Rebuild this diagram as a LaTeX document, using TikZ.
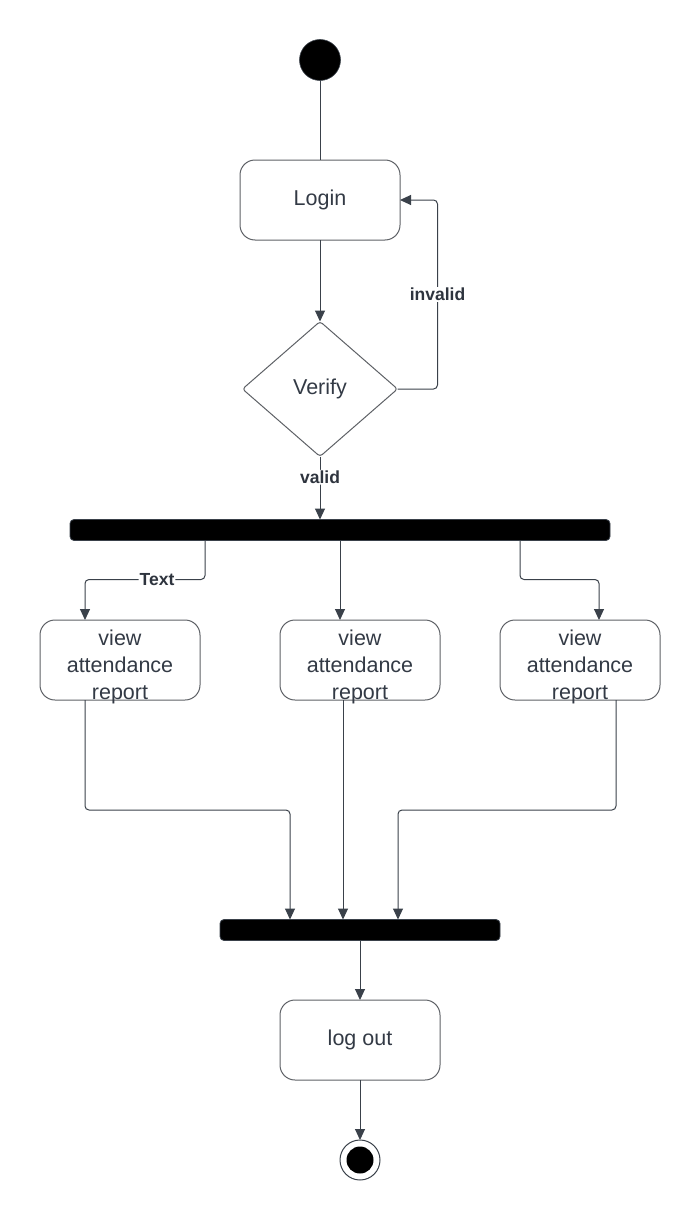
\documentclass[tikz,border=0pt]{standalone}
\usepackage{fontspec}
\setmainfont{Liberation Sans}
\usetikzlibrary{shapes.geometric,arrows.meta}
\definecolor{linec}{HTML}{3A414A}
\definecolor{boxc}{HTML}{5E6166}
\definecolor{textc}{HTML}{333A45}
\tikzset{
  act/.style={draw=boxc, line width=1pt, rounded corners=15pt, minimum width=160pt, minimum height=80pt, inner sep=0pt, outer sep=0pt, text=textc, font=\fontsize{21.5}{27}\selectfont, align=center},
  decision/.style={draw=boxc, line width=1pt, shape=diamond, aspect=1.15, minimum width=155pt, minimum height=135pt, inner sep=0pt, outer sep=0pt, rounded corners=3pt, text=textc, font=\fontsize{21.5}{27}\selectfont},
  bar/.style={fill=black, draw=linec, line width=0.8pt, rounded corners=4pt, minimum height=21pt, inner sep=0pt, outer sep=0pt},
  conn/.style={draw=linec, line width=1pt, rounded corners=4pt},
  arr/.style={conn, -{Triangle[length=11pt,width=10pt]}},
  lbl/.style={fill=white, text=textc!90!black, font=\bfseries\fontsize{17.5}{20}\selectfont, inner sep=1pt},
}
\begin{document}
\begin{tikzpicture}[x=1pt,y=-1pt]
\useasboundingbox (0,0) rectangle (700,1220);
\node[circle, fill=black, draw=linec, line width=0.6pt, minimum size=41pt, inner sep=0pt, outer sep=0pt] (start) at (320,60) {};
\node[act] (login) at (320,200) {Login};
\node[decision] (verify) at (320,389) {Verify};
\node[bar, minimum width=540pt] (fork) at (340,530) {};
\node[act] (v1) at (120,660) {};
\node[act] (v2) at (360,660) {};
\node[act] (v3) at (580,660) {};
\node[act, draw=none, fill=none, yshift=-7pt] (t1) at (v1) {view\\attendance\\report};
\node[act, draw=none, fill=none, yshift=-7pt] (t2) at (v2) {view\\attendance\\report};
\node[act, draw=none, fill=none, yshift=-7pt] (t3) at (v3) {view\\attendance\\report};
\node[bar, minimum width=280pt] (join) at (360,930) {};
\node[act] (logout) at (360,1040) {log out};
\node[circle, draw=linec, line width=1pt, minimum size=40pt, inner sep=0pt, outer sep=0pt] (final) at (360,1160) {};
\node[circle, fill=black, minimum size=27pt, inner sep=0pt] (finalin) at (final) {};

\draw[conn] (start.south) -- (login.north);
\draw[arr] (login.south) -- (verify.north);
\draw[arr] (verify.east) -- ++(40,0) |- node[lbl, pos=0.25] {invalid} (login.east);
\draw[arr] (verify.south) -- node[lbl, pos=0.33] {valid} (verify.south |- fork.north);
\draw[arr] ([xshift=-135pt]fork.south) -- ++(0,39) -| node[lbl, pos=0.2] {Text} ([xshift=-35pt]v1.north);
\draw[arr] (fork.south) -- (fork.south |- v2.north);
\draw[arr] ([xshift=180pt]fork.south) -- ++(0,39) -| ([xshift=19pt]v3.north);
\draw[arr] ([xshift=-35pt]v1.south) -- ++(0,110) -| ([xshift=-70pt]join.north);
\draw[arr] ([xshift=-17pt]v2.south) -- ([xshift=-17pt]join.north);
\draw[arr] ([xshift=36pt]v3.south) -- ++(0,110) -| ([xshift=38pt]join.north);
\draw[arr] (join.south) -- (logout.north);
\draw[arr] (logout.south) -- (final.north);
\end{tikzpicture}
\end{document}
